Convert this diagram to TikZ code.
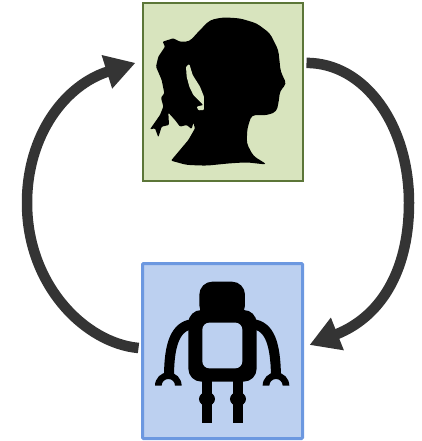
\documentclass[tikz,border=0pt]{standalone}
\usepackage{xcolor}
\usetikzlibrary{arrows.meta, positioning}
\definecolor{humangreen}{RGB}{216, 228, 190}
\definecolor{humanedge}{RGB}{92, 118, 56}
\definecolor{robotblue}{RGB}{188, 208, 240}
\definecolor{robotedge}{RGB}{108, 152, 224}
\definecolor{loopgray}{RGB}{52, 52, 52}
\tikzset{
  panel/.style={minimum width=160pt, inner sep=0pt, outer sep=0pt},
  loopline/.style={line width=10.5pt, color=loopgray, -{Triangle[length=30pt, width=33pt]}},
  limb/.style={line width=10pt, black}
}

\begin{document}
\begin{tikzpicture}[x=1pt, y=-1pt]
  \useasboundingbox (0,0) rectangle (421,441);
  \node[panel, draw=humanedge, fill=humangreen, line width=2pt, minimum height=177pt] (humanbox) at (222.5,92) {};
  \node[panel, draw=robotedge, fill=robotblue, line width=3pt, rounded corners=1pt, minimum height=175pt] (robotbox) at (222.5,351) {};

  % silhouette
  \begin{scope}[xshift=130pt, x=0.3333pt, y=-0.3333pt]
    \fill[black, rounded corners=4pt] (412,494) -- (370,468) -- (350,430) -- (352,385) -- (365,345)
      -- (410,346) -- (440,335) -- (447,300) -- (450,272) -- (470,252) -- (452,215) -- (445,150)
      -- (420,100) -- (380,70) -- (330,55) -- (280,52) -- (240,60) -- (210,90) -- (178,125)
      [rounded corners=1pt] -- (150,125) -- (130,115) -- (98,125) -- (105,140) -- (85,170) -- (78,200) -- (95,240)
      -- (103,280) -- (93,293) -- (100,320) -- (90,345) -- (60,388) -- (75,385) -- (85,412)
      -- (95,380) -- (117,375) -- (115,338) -- (135,360) -- (150,380) -- (170,375) -- (185,387)
      -- (190,368) -- (195,385) -- (175,420) -- (123,482) [rounded corners=4pt] -- (170,495) -- (230,497) -- (300,490)
      -- (350,487) -- cycle;
    \fill[humangreen, rounded corners=1pt] (168,200) -- (178,192) -- (188,225) -- (210,260) -- (222,290)
      -- (222,330) -- (205,331) -- (200,320) -- (220,315) -- (205,300) -- (190,285) -- (178,260)
      -- (170,230) -- cycle;
  \end{scope}

  % robot
  \begin{scope}[xshift=130pt, yshift=-255pt, x=0.3333pt, y=-0.3333pt]
    \fill[black, rounded corners=13pt] (208,190) rectangle (345,80);
    \fill[black, rounded corners=13pt] (175,165) rectangle (380,380);
    \fill[robotblue, rounded corners=7pt] (217,203) rectangle (337,340);
    \draw[limb] (190,207) .. controls (135,212) and (118,270) .. (117,360);
    \draw[limb] (366,207) .. controls (421,212) and (436,270) .. (438,360);
    \fill[black] (75,392) arc[start angle=180, end angle=360, radius=40] -- (135,392)
      arc[start angle=360, end angle=180, radius=20] -- cycle;
    \fill[black] (398,392) arc[start angle=180, end angle=360, radius=40] -- (458,392)
      arc[start angle=360, end angle=180, radius=20] -- cycle;
    \foreach \v in {231,324} {
      \fill[black] (\v-16,375) rectangle (\v+16,505);
      \fill[black] (\v,432) ellipse[x radius=24, y radius=21];
    }
  \end{scope}

  \draw[loopline] ([xshift=-4pt,yshift=3pt]robotbox.west) .. controls (85,343) and (27,285) .. (27,203)
    .. controls (27,135) and (65,85) .. ([xshift=-7pt]humanbox.160);
  \draw[loopline] ([xshift=4pt]humanbox.20) .. controls (365,63) and (409,125) .. (409,203)
    .. controls (409,265) and (385,315) .. ([xshift=7pt,yshift=6pt]robotbox.east);
\end{tikzpicture}
\end{document}
